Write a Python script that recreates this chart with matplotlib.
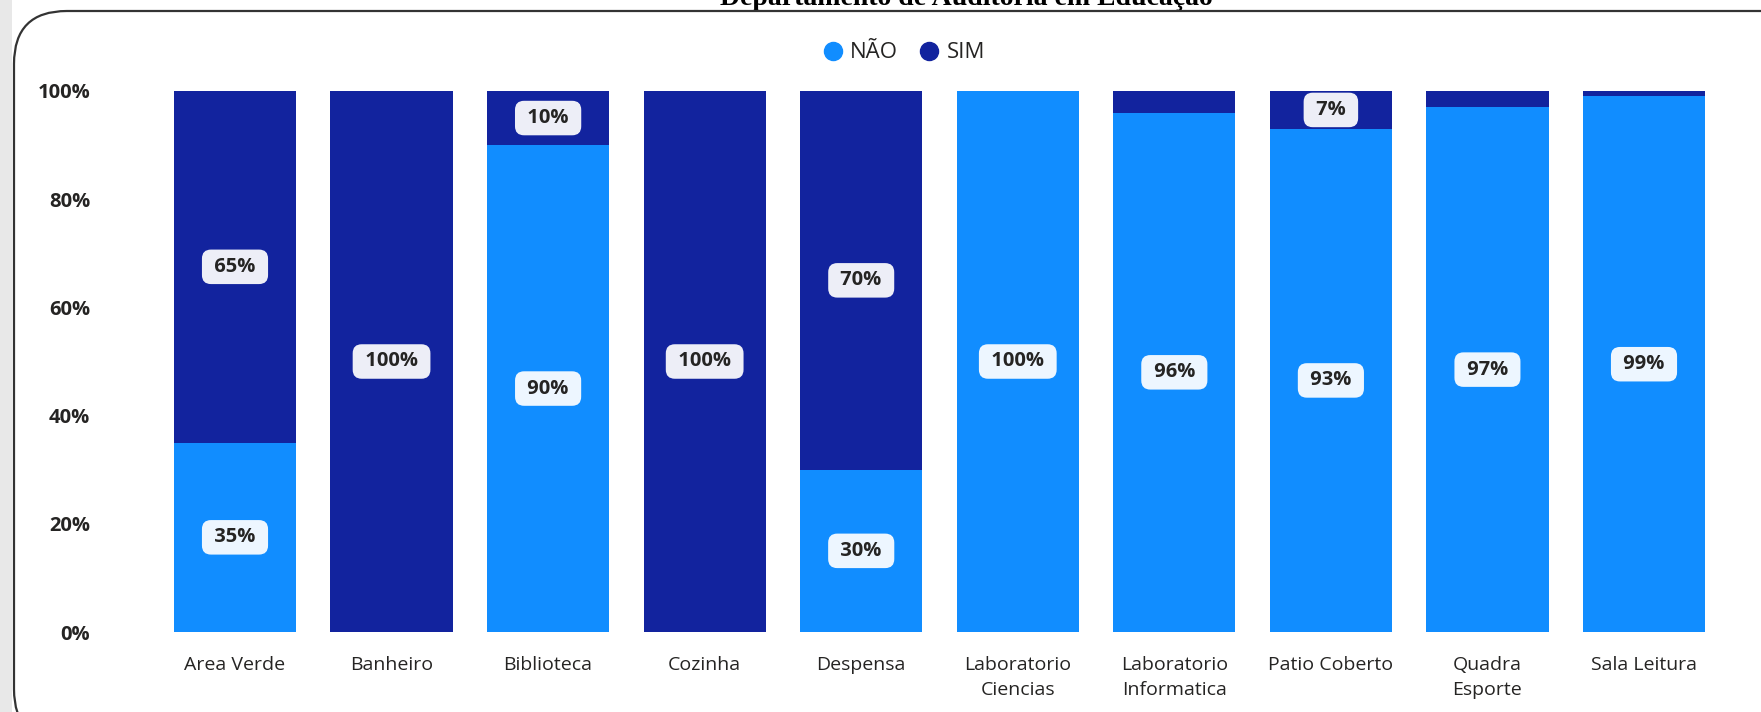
import matplotlib
matplotlib.use("Agg")
from matplotlib import pyplot as plt
from matplotlib.patches import FancyBboxPatch, Rectangle
from matplotlib.lines import Line2D

# Dados do grafico (percentuais por ambiente)
categorias = ["Area Verde", "Banheiro", "Biblioteca", "Cozinha", "Despensa",
              "Laboratorio\nCiencias", "Laboratorio\nInformatica", "Patio Coberto",
              "Quadra\nEsporte", "Sala Leitura"]
nao = [35, 0, 90, 0, 30, 100, 96, 93, 97, 99]
sim = [65, 100, 10, 100, 70, 0, 4, 7, 3, 1]
yticks = [0, 20, 40, 60, 80, 100]
ytick_labels = ["0%", "20%", "40%", "60%", "80%", "100%"]

cor_nao = "#118DFF"
cor_sim = "#12239E"
fonte = "Open Sans"

W, H = 1761, 712
fig = plt.figure(figsize=(W / 100, H / 100), dpi=100)

# faixa cinza na esquerda e moldura arredondada
fig.patches.append(Rectangle((0, 0), 12 / W, 1, transform=fig.transFigure,
                             facecolor="#e8e8e8", edgecolor="none", zorder=0))
moldura = FancyBboxPatch((14 / W, -30 / H), 1.2, (H - 11 + 30) / H,
                         boxstyle="round,pad=0,rounding_size=0.03",
                         transform=fig.transFigure, facecolor="white",
                         edgecolor="#333333", linewidth=1.6, zorder=1,
                         mutation_aspect=W / H)
fig.patches.append(moldura)

# titulo cortado no topo
fig.text(966 / W, 1 - 5 / H, "Departamento de Auditoria em Educação",
         ha="center", va="baseline", fontsize=20, fontweight="bold",
         family="Liberation Serif", color="black", zorder=0)

# area do grafico
pitch = (1644 - 235) / 9
left_px, right_px = 150, 1730
x0 = -(235 - left_px) / pitch
x1 = 9 + (right_px - 1644) / pitch
ax = fig.add_axes([left_px / W, (H - 632) / H, (right_px - left_px) / W, (632 - 91) / H])
ax.set_zorder(2)
ax.patch.set_alpha(0)

x = list(range(len(categorias)))
largura = 0.78
ax.bar(x, nao, width=largura, color=cor_nao)
ax.bar(x, sim, width=largura, bottom=nao, color=cor_sim)

caixa = dict(boxstyle="round,pad=0.36,rounding_size=0.45", facecolor="white",
             edgecolor="none", alpha=0.93)
for i in x:
    if nao[i] >= 5:
        ax.text(i, nao[i] / 2, f" {nao[i]}% ", ha="center", va="center",
                fontsize=14.5, fontweight="bold", family=fonte, color="#252423", bbox=caixa)
    if sim[i] >= 5:
        ax.text(i, nao[i] + sim[i] / 2, f" {sim[i]}% ", ha="center", va="center",
                fontsize=14.5, fontweight="bold", family=fonte, color="#252423", bbox=caixa)

ax.set_xlim(x0, x1)
ax.set_ylim(0, 100)
ax.set_yticks(yticks)
ax.set_yticklabels(ytick_labels, fontsize=14.5, fontweight="bold", family=fonte, color="#252423")
ax.set_xticks(x)
ax.set_xticklabels(categorias, fontsize=14, family=fonte, color="#252423", linespacing=1.5)
ax.tick_params(axis="both", length=0)
ax.tick_params(axis="y", pad=43)
ax.tick_params(axis="x", pad=17)
for s in ax.spines.values():
    s.set_visible(False)

# legenda
handles = [Line2D([], [], marker="o", linestyle="none", markersize=13, color=cor_nao),
           Line2D([], [], marker="o", linestyle="none", markersize=13, color=cor_sim)]
fig.legend(handles, ["NÃO", "SIM"], loc="center", bbox_to_anchor=(898 / W, 1 - 53 / H),
           ncol=2, frameon=False, handletextpad=-0.2, columnspacing=0.4,
           prop={"family": fonte, "size": 16}, labelcolor="#252423")

plt.savefig("out.png", dpi=100)
